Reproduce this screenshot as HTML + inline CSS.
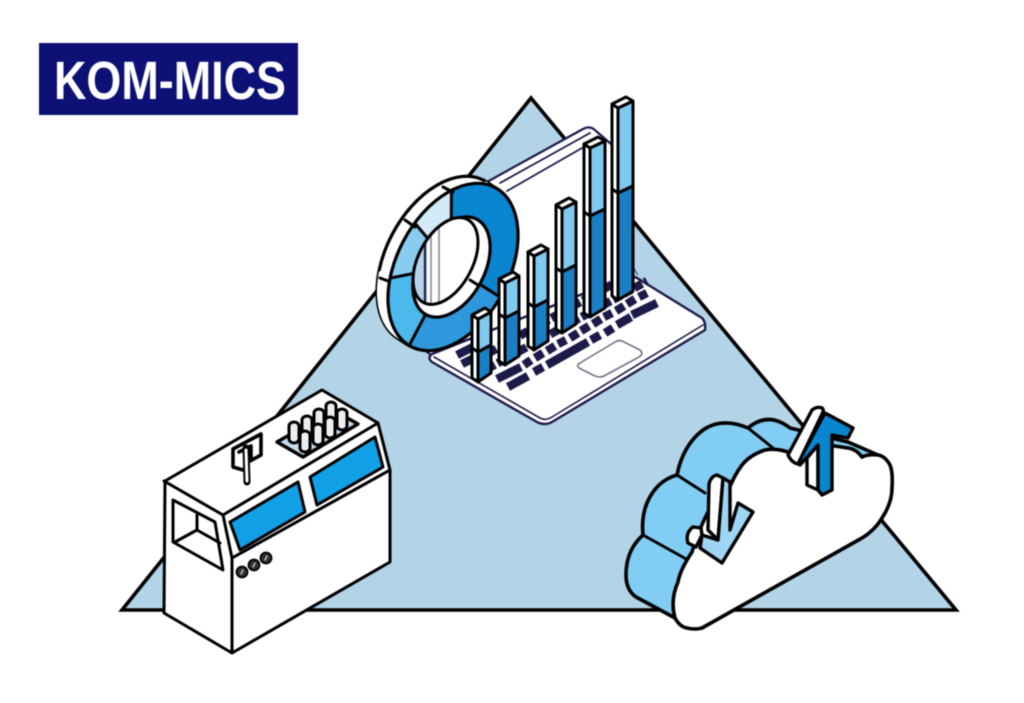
<!DOCTYPE html>
<html><head><meta charset="utf-8"><style>
html,body{margin:0;padding:0;background:#fff}
svg{display:block;filter:blur(.4px)}
</style></head><body>
<svg width="1024" height="703" viewBox="0 0 1024 703" xmlns="http://www.w3.org/2000/svg" stroke-linejoin="round" stroke-linecap="round">
<defs>
<clipPath id="fr"><ellipse cx="0" cy="0" rx="90" ry="56" transform="translate(453 267) rotate(-62)"/></clipPath>
<clipPath id="hole"><ellipse cx="0" cy="0" rx="47" ry="27" transform="translate(445.5 261) rotate(-62)"/></clipPath>
</defs>
<rect width="1024" height="703" fill="#fff"/>
<rect x="39" y="43" width="259" height="72" fill="#0d1175"/>
<text x="54" y="99" font-family="'Liberation Sans',sans-serif" font-weight="700" font-size="54" fill="#fff" textLength="232" lengthAdjust="spacingAndGlyphs">KOM-MICS</text>

<polygon points="531,98 956,610 122,610" fill="#b3d3e6" stroke="#000" stroke-width="3.6" stroke-linejoin="miter"/>

<!-- laptop screen -->
<path d="M427,215 L583,129 Q590,125 596,131 L618,150 L618,300 L440,362 L427,352Z" fill="#fff" stroke="#1d1a4a" stroke-width="2.2"/>
<path d="M500,183 L590,133 M507,191 L582,148" stroke="#1d1a4a" stroke-width="1.8" fill="none"/>
<!-- laptop base -->
<path d="M432,354 L630,275 L637,278 L702,318 Q706,322 705,330 L552,422 Q545,426 537,422 L432,362 Q427,358 432,354Z" fill="#fff" stroke="#1d1a4a" stroke-width="2.4"/>
<path d="M434,357 L540,418 Q546,421 552,417 L703,325" stroke="#1d1a4a" stroke-width="1.6" fill="none"/>
<path d="M580,363 L615,342 Q619,339 624,342 L640,350 Q644,354 639,357 L604,376 Q600,378 595,376 L579,368 Q576,365 580,363Z" fill="#fff" stroke="#6f7488" stroke-width="1.6"/>
<!-- keyboard -->
<g stroke="#1d1a4a" stroke-width="8.5" fill="none" stroke-linecap="butt">
<path d="M508,387 L528,376 M534,372 L543,367 M547,365 L588,342 M591,340 L600,335 M605,333 L613,328 M617,325 L631,317 M632,315 L657,303"/>
<path d="M497,379 L521,367 M524,365 L531,360 M535,358 L543,353 M547,351 L555,346 M558,344 L566,340 M570,338 L578,333 M581,331 L589,326 M593,324 L601,319 M604,317 L612,313 M616,311 L624,306 M627,304 L635,299 M639,297 L647,293"/>
<path d="M487,369 L647,281" stroke-dasharray="9 3"/>
<path d="M478,359 L636,271" stroke-dasharray="9 3"/>
<path d="M457,355 L475,346 M462,364 L478,356"/>
</g>

<!-- donut rim -->
<g fill="#fff" stroke="#000" stroke-width="3.2">
<ellipse rx="90" ry="56" transform="translate(442 260) rotate(-62)"/>
<ellipse rx="90" ry="56" transform="translate(445 262) rotate(-62)"/>
<ellipse rx="90" ry="56" transform="translate(448 264) rotate(-62)"/>
<ellipse rx="90" ry="56" transform="translate(451 266) rotate(-62)"/>
</g>
<g fill="#fff">
<ellipse rx="90" ry="56" transform="translate(442 260) rotate(-62)"/>
<ellipse rx="90" ry="56" transform="translate(445 262) rotate(-62)"/>
<ellipse rx="90" ry="56" transform="translate(448 264) rotate(-62)"/>
<ellipse rx="90" ry="56" transform="translate(451 266) rotate(-62)"/>
</g>
<ellipse rx="90" ry="56" transform="translate(442 260) rotate(-62)" fill="none" stroke="#000" stroke-width="3.2" stroke-dasharray="175 400" stroke-dashoffset="265"/>
<!-- donut front -->
<g clip-path="url(#fr)">
<rect x="360" y="160" width="180" height="200" fill="#fff"/>
<polygon points="451,266 452,100 640,100 640,400 560,335" fill="#0a85cf"/>
<polygon points="451,266 560,335 560,420 370,420" fill="#2f98dc"/>
<polygon points="451,266 370,420 320,420 320,292" fill="#4db8ec"/>
<polygon points="451,266 320,292 320,180 370,170" fill="#8accf0"/>
<polygon points="451,266 370,170 452,100" fill="#d3e9f8"/>
<path d="M451,266 L452,100 M451,266 L560,335 M451,266 L370,420 M451,266 L320,292 M451,266 L370,170" stroke="#000" stroke-width="3" fill="none"/>
</g>
<ellipse rx="90" ry="56" transform="translate(453 267) rotate(-62)" fill="none" stroke="#000" stroke-width="3.2"/>
<!-- hole -->
<ellipse rx="54" ry="33" transform="translate(451.5 267) rotate(-62)" fill="#fff" stroke="#000" stroke-width="3.2"/>
<g clip-path="url(#hole)">
<rect x="400" y="200" width="100" height="130" fill="#fff"/>
<rect x="400" y="200" width="27" height="130" fill="#b3d3e6"/>
<path d="M425,200 V330" stroke="#1d1a4a" stroke-width="2.2"/>
<path d="M431,200 V330 M439,200 V330" stroke="#85879a" stroke-width="1.6"/>
</g>
<ellipse rx="47" ry="27" transform="translate(445.5 261) rotate(-62)" fill="none" stroke="#000" stroke-width="3"/>
<path d="M380,278 L388,281 M405,220 L415,227 M443,187 L453,192 M470,280 L478,285" stroke="#000" stroke-width="3" fill="none"/>

<!-- bars -->
<g stroke="#000" stroke-width="3">
<g><polygon points="472,315 478,319 478,382 472,378" fill="#fff"/><polygon points="478,319 491,312 491,345 478,352" fill="#7fc8f0"/><polygon points="478,352 491,345 491,373 478,382" fill="#1b7fc4"/><polygon points="472,315 485,308 491,312 478,319" fill="#fff"/><path d="M472,348 L478,352" fill="none"/></g>
<g><polygon points="499,279 505,283 505,365 499,361" fill="#fff"/><polygon points="505,283 519,276 519,311 505,318" fill="#7fc8f0"/><polygon points="505,318 519,311 519,356 505,365" fill="#1b7fc4"/><polygon points="499,279 513,272 519,276 505,283" fill="#fff"/><path d="M499,314 L505,318" fill="none"/></g>
<g><polygon points="528,252 534,256 534,350 528,346" fill="#fff"/><polygon points="534,256 548,249 548,300 534,307" fill="#7fc8f0"/><polygon points="534,307 548,300 548,341 534,350" fill="#1b7fc4"/><polygon points="528,252 541,245 548,249 534,256" fill="#fff"/><path d="M528,303 L534,307" fill="none"/></g>
<g><polygon points="556,205 562,209 562,333 556,329" fill="#fff"/><polygon points="562,209 576,202 576,265 562,272" fill="#7fc8f0"/><polygon points="562,272 576,265 576,324 562,333" fill="#1b7fc4"/><polygon points="556,205 569,198 576,202 562,209" fill="#fff"/><path d="M556,268 L562,272" fill="none"/></g>
<g><polygon points="584,144 590,148 590,317 584,313" fill="#fff"/><polygon points="590,148 605,141 605,209 590,216" fill="#7fc8f0"/><polygon points="590,216 605,209 605,308 590,317" fill="#1b7fc4"/><polygon points="584,144 598,137 605,141 590,148" fill="#fff"/><path d="M584,212 L590,216" fill="none"/></g>
<g><polygon points="612,104 618,108 618,300 612,296" fill="#fff"/><polygon points="618,108 633,101 633,186 618,193" fill="#7fc8f0"/><polygon points="618,193 633,186 633,291 618,300" fill="#1b7fc4"/><polygon points="612,104 626,97 633,101 618,108" fill="#fff"/><path d="M612,189 L618,193" fill="none"/></g>
</g>

<!-- machine -->
<g stroke="#000" stroke-width="3" fill="#fff">
<polygon points="165,481 322,390 378,423 390,470 390,562 232,653 164,613"/>
<path d="M164,481 L223,515 L378,423 M223,515 L232,558 L232,653 M232,558 L390,470" fill="none"/>
<polygon points="173,500 215,522 223,570 173,542"/>
<path d="M197,515 V530 M197,530 L175,542 M197,530 L220,543" fill="none"/>
<polygon points="230,522 298,482 305,512 240,550" fill="#11a0e6"/>
<polygon points="310,477 375,437 383,467 317,505" fill="#11a0e6"/>
<polygon points="277,442 333,410 358,424 303,457" fill="#c5dcec" stroke-width="3.4"/>
</g>
<path d="M233,449 L261,434 V455 L250,461 M233,449 V467 L243,470 M239,452 L251,446 V460" fill="none" stroke="#000" stroke-width="3.6"/>
<path d="M246,448 L247,482" stroke="#000" stroke-width="7"/><path d="M246,450 L247,481" stroke="#fff" stroke-width="3"/>
<g fill="#eee" stroke="#000" stroke-width="3">
<path d="M289,426 a5,4 0 0 1 10,0 v13 a5,4 0 0 1 -10,0z"/>
<path d="M302,420 a5,4 0 0 1 10,0 v13 a5,4 0 0 1 -10,0z"/>
<path d="M314,413 a5,4 0 0 1 10,0 v13 a5,4 0 0 1 -10,0z"/>
<path d="M326,406 a5,4 0 0 1 10,0 v13 a5,4 0 0 1 -10,0z"/>
<path d="M300,435 a5,4 0 0 1 10,0 v13 a5,4 0 0 1 -10,0z"/>
<path d="M313,428 a5,4 0 0 1 10,0 v13 a5,4 0 0 1 -10,0z"/>
<path d="M325,421 a5,4 0 0 1 10,0 v13 a5,4 0 0 1 -10,0z"/>
<path d="M337,413 a5,4 0 0 1 10,0 v13 a5,4 0 0 1 -10,0z"/>
</g>
<g fill="#333" stroke="#000" stroke-width="1.8">
<circle cx="242" cy="572" r="5.5"/><circle cx="254" cy="565" r="5.5"/><circle cx="266" cy="558" r="5.5"/>
</g>
<path d="M241,574 L243,570 M253,567 L255,563 M265,560 L267,556" stroke="#fff" stroke-width="1"/>

<!-- cloud back -->
<path d="M675,618 L636,597 Q626,590 626,575 Q626,550 643,535 Q640,505 658,486 Q666,478 677,475 Q683,445 703,430 Q722,417 748,428 Q768,411 790,428 L848,442 L878,455 L770,520Z" fill="#82cdf3" stroke="#000" stroke-width="3.6"/>
<path d="M677,475 L705,493 M643,535 L688,560 M748,428 L773,448" stroke="#000" stroke-width="3" fill="none"/>
<!-- cloud front -->
<path d="M675,618 Q680,627 687,628 Q695,630 702,628 L862,538 Q875,530 882,518 Q892,503 892,488 Q893,472 890,465 Q885,456 878,455 Q868,454 862,457 Q856,449 848,448 L828,445 Q805,446 788,452 Q775,448 765,450 Q750,455 742,465 Q733,477 728,492 Q712,502 705,518 Q697,535 692,552 Q680,570 678,582 Q670,600 675,618Z" fill="#fff" stroke="#000" stroke-width="3.6"/>
<!-- down arrow -->
<g stroke="#000" stroke-width="3.4">
<path d="M709,484 Q711,476 717,475 L723,478 L718,540 L708,530Z" fill="#fff"/>
<polygon points="723,478 730,482 730,530 738,503 753,512 722,563 700,548 702,535 718,540" fill="#9fd5f4"/>
<path d="M701,528 L693,527 Q685,533 688,543 L696,547 L702,535Z" fill="#fff"/>
</g>
<!-- up arrow -->
<g stroke="#000" stroke-width="3.4">
<polygon points="807,458 818,445 818,490 807,485" fill="#fff"/>
<polygon points="798,463 825,413 853,428 848,438 832,435 832,490 822,495 818,490 818,445 800,465" fill="#0a85cf"/>
<path d="M788,455 L812,410 Q817,406 822,408 Q824,410 823,412 L798,464 Q792,463 788,455Z" fill="#fff"/>
</g>
</svg>
</body></html>
